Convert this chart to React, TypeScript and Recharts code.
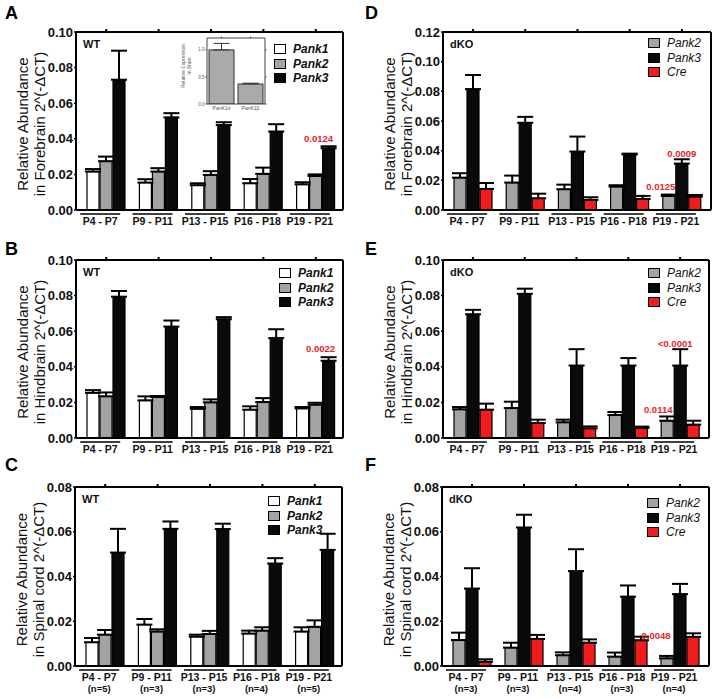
import React from "react";
import { BarChart, Bar, XAxis, YAxis, ErrorBar, Legend, LabelList } from "recharts";

const FONT = "'Liberation Sans', Arial, Helvetica, sans-serif";

const groups = ["P4 - P7", "P9 - P11", "P13 - P15", "P16 - P18", "P19 - P21"];
const nWT = ["(n=5)", "(n=3)", "(n=3)", "(n=4)", "(n=5)"];
const nKO = ["(n=3)", "(n=3)", "(n=4)", "(n=3)", "(n=4)"];

const ticks10 = [0, 0.02, 0.04, 0.06, 0.08, 0.1];
const ticks12 = [0, 0.02, 0.04, 0.06, 0.08, 0.1, 0.12];
const ticks08 = [0, 0.02, 0.04, 0.06, 0.08];

// A - forebrain WT
const aPank1 = [0.0216, 0.0154, 0.0139, 0.015, 0.0144];
const aPank1Err = [0.0014, 0.0019, 0.0011, 0.0024, 0.0012];
const aPank2 = [0.0274, 0.0216, 0.0197, 0.0203, 0.0191];
const aPank2Err = [0.0026, 0.0019, 0.0021, 0.0035, 0.0009];
const aPank3 = [0.0732, 0.052, 0.0477, 0.0441, 0.0347];
const aPank3Err = [0.0163, 0.0024, 0.0016, 0.0041, 0.0011];

// B - hindbrain WT
const bPank1 = [0.0254, 0.0211, 0.0164, 0.0159, 0.0166];
const bPank1Err = [0.0015, 0.0023, 0.001, 0.0019, 0.0008];
const bPank2 = [0.0234, 0.023, 0.02, 0.0202, 0.0187];
const bPank2Err = [0.0022, 0.0006, 0.0017, 0.0022, 0.0011];
const bPank3 = [0.0794, 0.0626, 0.0667, 0.0561, 0.0434];
const bPank3Err = [0.0032, 0.0034, 0.0012, 0.005, 0.002];

// C - spinal cord WT
const cPank1 = [0.0106, 0.0185, 0.0131, 0.0145, 0.0154];
const cPank1Err = [0.0019, 0.0025, 0.0009, 0.0013, 0.0019];
const cPank2 = [0.014, 0.0154, 0.0143, 0.0158, 0.0175];
const cPank2Err = [0.0021, 0.001, 0.0014, 0.0015, 0.0029];
const cPank3 = [0.0507, 0.0613, 0.0612, 0.0458, 0.0519];
const cPank3Err = [0.0106, 0.0033, 0.0024, 0.0024, 0.0072];

// D - forebrain dKO
const dPank2 = [0.0218, 0.0185, 0.014, 0.0158, 0.0095];
const dPank2Err = [0.003, 0.0047, 0.0031, 0.0009, 0.0009];
const dPank3 = [0.0815, 0.0588, 0.0394, 0.0374, 0.0313];
const dPank3Err = [0.0095, 0.004, 0.0101, 0.0006, 0.0029];
const dCre = [0.0142, 0.0079, 0.0068, 0.0074, 0.009];
const dCreErr = [0.004, 0.0031, 0.0018, 0.0021, 0.0011];

// E - hindbrain dKO
const ePank2 = [0.0161, 0.0168, 0.0088, 0.0129, 0.0097];
const ePank2Err = [0.0013, 0.0036, 0.0015, 0.0017, 0.0024];
const ePank3 = [0.0695, 0.081, 0.0407, 0.0407, 0.0407];
const ePank3Err = [0.0025, 0.0029, 0.0092, 0.0042, 0.0092];
const eCre = [0.0159, 0.0084, 0.0054, 0.0056, 0.0075];
const eCreErr = [0.0034, 0.0019, 0.0011, 0.0008, 0.0022];

// F - spinal cord dKO
const fPank2 = [0.0116, 0.0082, 0.0048, 0.0042, 0.0034];
const fPank2Err = [0.0033, 0.0022, 0.0013, 0.0018, 0.0011];
const fPank3 = [0.0346, 0.0619, 0.0424, 0.031, 0.0321];
const fPank3Err = [0.0091, 0.0057, 0.0098, 0.005, 0.0046];
const fCre = [0.0019, 0.0121, 0.0104, 0.0115, 0.013];
const fCreErr = [0.0011, 0.0018, 0.0015, 0.0016, 0.0016];

// inset in A
const insetCats = ["PanK1\u03b1", "PanK1\u03b2"];
const insetVals = [1.0, 0.37];
const insetErr = [0.12, 0.015];

const WHITE = "#ffffff";
const GRAY = "#a3a3a3";
const BLACK = "#0a0a0a";
const RED = "#f21c1c";

type Series = { key: string; name: string; fill: string; values: number[]; errs: number[] };
type Note = { series: string; index: number; text: string; dx: number; dy: number };

function buildData(series: Series[], notes: Note[], nLabels?: string[]) {
  return groups.map((g, i) => {
    const row: any = { group: g, n: nLabels ? nLabels[i] : "" };
    series.forEach((s) => {
      row[s.key] = s.values[i];
      row[s.key + "Err"] = [0, s.errs[i]];
    });
    notes.forEach((n) => {
      if (n.index === i) row[n.series + "Note"] = n.text;
    });
    return row;
  });
}

const blank = () => <g />;

function Panel(props: any) {
  const { letter, pos, plot, xh, series, notes, nLabels, ticks, genotype, place, legendPos, pad, bold } = props;
  const data = buildData(series, notes, nLabels);
  const margin = { left: plot.l - 44, top: plot.t - 1, right: pos.w - plot.r - 4, bottom: pos.h - plot.b - xh };
  const axisLine = { stroke: "#000", strokeWidth: 2 };
  const midY = (plot.t + plot.b) / 2 + 3;

  const title = () => (
    <g fontFamily={FONT} fontSize={15} fill="#111">
      <text transform={`translate(${plot.l - 54},${midY}) rotate(-90)`} textAnchor="middle" dominantBaseline="central">
        Relative Abundance
      </text>
      <text transform={`translate(${plot.l - 37},${midY}) rotate(-90)`} textAnchor="middle" dominantBaseline="central">
        {place} 2^(-{"\u0394"}CT)
      </text>
    </g>
  );

  const groupTick = (p: any) => {
    const { x, y, payload, index } = p;
    const cx = x - 6;
    return (
      <g fontFamily={FONT} fontWeight="bold" fill="#111">
        <line x1={cx - 20} x2={cx + 20} y1={y + 4} y2={y + 4} stroke="#000" strokeWidth={1.5} />
        <text x={cx} y={y + 15} textAnchor="middle" fontSize={10.5}>
          {payload.value}
        </text>
        {nLabels ? (
          <text x={cx} y={y + 26} textAnchor="middle" fontSize={9.5}>
            {nLabels[index]}
          </text>
        ) : null}
      </g>
    );
  };

  const noteContent = (key: string) => (p: any) => {
    if (!p.value) return null;
    const n = notes.find((q: Note) => q.series === key && q.text === p.value);
    const vb = p.viewBox || {};
    const x = p.x ?? vb.x;
    const y = p.y ?? vb.y;
    const w = p.width ?? vb.width;
    return (
      <text x={x + w / 2 + n.dx} y={y + n.dy} textAnchor="middle" fill="#e8232a" fontSize={9.5} fontWeight="bold" fontFamily={FONT}>
        {p.value}
      </text>
    );
  };

  const legendContent = () => (
    <div style={{ fontFamily: FONT }}>
      {series.map((s: Series) => (
        <div key={s.key} style={{ display: "flex", alignItems: "center", height: 14.5 }}>
          <div style={{ width: 10, height: 8, background: s.fill, border: "1.5px solid #000", marginRight: 7 }} />
          <span style={{ fontSize: 12, fontStyle: "italic", fontWeight: bold ? "bold" : "normal", color: "#111" }}>{s.name}</span>
        </div>
      ))}
    </div>
  );

  return (
    <div style={{ position: "absolute", left: pos.x, top: pos.y, width: pos.w, height: pos.h }}>
      <BarChart width={pos.w} height={pos.h} margin={margin} data={data} barSize={12} barGap={1}>
        <XAxis
          dataKey="group"
          xAxisId="b"
          height={xh}
          axisLine={axisLine}
          tickLine={false}
          tickSize={0}
          tickMargin={0}
          interval={0}
          padding={pad}
          tick={groupTick}
        />
        <XAxis dataKey="group" xAxisId="t" orientation="top" height={1} axisLine={axisLine} tickSize={3} tickLine={{ stroke: "#000", strokeWidth: 2 }} tick={blank} interval={0} padding={pad} />
        <YAxis
          yAxisId="l"
          width={44}
          domain={[0, ticks[ticks.length - 1]]}
          ticks={ticks}
          interval={0}
          axisLine={axisLine}
          tickLine={{ stroke: "#000", strokeWidth: 1.5 }}
          tickSize={2}
          tickMargin={1}
          tick={{ fill: "#111", fontSize: 13, fontWeight: "bold", fontFamily: FONT }}
          tickFormatter={(v: number) => v.toFixed(2)}
          label={title}
        />
        <YAxis yAxisId="r" orientation="right" width={4} domain={[0, ticks[ticks.length - 1]]} ticks={ticks} interval={0} axisLine={axisLine} tickSize={3} tickLine={{ stroke: "#000", strokeWidth: 2 }} tick={blank} />
        {series.map((s: Series) => (
          <Bar key={s.key} xAxisId="b" yAxisId="l" dataKey={s.key} name={s.name} fill={s.fill} stroke="#000" strokeWidth={1.2} isAnimationActive={false}>
            <ErrorBar dataKey={s.key + "Err"} direction="y" width={8} strokeWidth={2} stroke="#000" />
            <LabelList dataKey={s.key + "Note"} content={noteContent(s.key)} />
          </Bar>
        ))}
        <Legend layout="vertical" align="center" verticalAlign="middle" content={legendContent} wrapperStyle={{ left: legendPos.left, top: legendPos.top, width: 70 }} />
      </BarChart>
      <div style={{ position: "absolute", left: plot.l + 7, top: plot.t + 6, fontFamily: FONT, fontWeight: "bold", fontSize: 11, color: "#111" }}>{genotype}</div>
      <div style={{ position: "absolute", left: letter.x, top: letter.y, fontFamily: FONT, fontWeight: "bold", fontSize: 18, color: "#000" }}>{letter.t}</div>
    </div>
  );
}

function Inset() {
  const data = insetCats.map((c, i) => ({ cat: c, v: insetVals[i], e: [0, insetErr[i]] }));
  const pos = { x: 170, y: 30, w: 100, h: 85 };
  const plot = { l: 37, t: 8, r: 95, b: 74 };
  const margin = { left: plot.l - 14, top: plot.t - 1, right: pos.w - plot.r - 2, bottom: pos.h - plot.b - 9 };
  const ax = { stroke: "#444", strokeWidth: 1 };
  const mid = 36;
  const title = () => (
    <g fontFamily={FONT} fontSize={5} fill="#555">
      <text transform={`translate(13,${mid}) rotate(-90)`} textAnchor="middle" dominantBaseline="central">
        Relative Expression
      </text>
      <text transform={`translate(19,${mid}) rotate(-90)`} textAnchor="middle" dominantBaseline="central">
        in Brain
      </text>
    </g>
  );
  return (
    <div style={{ position: "absolute", left: pos.x, top: pos.y }}>
      <BarChart width={pos.w} height={pos.h} margin={margin} data={data} barSize={25} barCategoryGap={2}>
        <XAxis dataKey="cat" height={9} axisLine={ax} tickLine={false} tickSize={1} tickMargin={1} interval={0} tick={{ fontSize: 5, fill: "#555", fontFamily: FONT }} />
        <XAxis dataKey="cat" xAxisId="t" orientation="top" height={1} axisLine={ax} tickSize={1.5} tickLine={ax} tick={blank} interval={0} />
        <YAxis width={14} domain={[0, 1.22]} ticks={[0, 0.5, 1]} interval={0} axisLine={ax} tickLine={ax} tickSize={1.5} tickMargin={1} tick={{ fontSize: 4.5, fill: "#555", fontFamily: FONT }} tickFormatter={(v: number) => v.toFixed(1)} label={title} allowDataOverflow />
        <YAxis yAxisId="r" orientation="right" width={2} domain={[0, 1.22]} ticks={[0, 0.5, 1]} axisLine={ax} tickLine={ax} tickSize={1.5} tick={blank} allowDataOverflow />
        <Bar dataKey="v" fill="#aaaaaa" stroke="#333" strokeWidth={1} isAnimationActive={false}>
          <ErrorBar dataKey="e" direction="y" width={8} strokeWidth={1} stroke="#333" />
        </Bar>
      </BarChart>
    </div>
  );
}

const wtSeries = (p1: number[], e1: number[], p2: number[], e2: number[], p3: number[], e3: number[]): Series[] => [
  { key: "s1", name: "Pank1", fill: WHITE, values: p1, errs: e1 },
  { key: "s2", name: "Pank2", fill: GRAY, values: p2, errs: e2 },
  { key: "s3", name: "Pank3", fill: BLACK, values: p3, errs: e3 },
];
const koSeries = (p2: number[], e2: number[], p3: number[], e3: number[], cr: number[], ec: number[]): Series[] => [
  { key: "s1", name: "Pank2", fill: GRAY, values: p2, errs: e2 },
  { key: "s2", name: "Pank3", fill: BLACK, values: p3, errs: e3 },
  { key: "s3", name: "Cre", fill: RED, values: cr, errs: ec },
];

const notesA: Note[] = [{ series: "s3", index: 4, text: "0.0124", dx: -10, dy: -6 }];
const notesB: Note[] = [{ series: "s3", index: 4, text: "0.0022", dx: -8, dy: -9 }];
const notesC: Note[] = [];
const notesD: Note[] = [
  { series: "s2", index: 4, text: "0.0009", dx: 0, dy: -7 },
  { series: "s1", index: 4, text: "0.0125", dx: -8, dy: -6 },
];
const notesE: Note[] = [
  { series: "s2", index: 4, text: "<0.0001", dx: -5, dy: -19 },
  { series: "s1", index: 4, text: "0.0114", dx: -9, dy: -8 },
];
const notesF: Note[] = [{ series: "s3", index: 3, text: "0.0048", dx: 15, dy: -1 }];

const padWT = { left: 4, right: 1 };
const padKO = { left: 4, right: 3 };

export default function App() {
  return (
    <div style={{ position: "absolute", left: 0, top: 0, width: 719, height: 699, background: "#fff", overflow: "hidden" }}>
      <Panel
        letter={{ t: "A", x: 5, y: 3 }}
        pos={{ x: 0, y: 0, w: 360, h: 230 }}
        plot={{ l: 76, t: 32, r: 343, b: 210 }}
        xh={18}
        series={wtSeries(aPank1, aPank1Err, aPank2, aPank2Err, aPank3, aPank3Err)}
        notes={notesA}
        ticks={ticks10}
        genotype="WT"
        place="in Forebrain"
        legendPos={{ left: 274, top: 42 }}
        pad={padWT}
        bold
      />
      <Inset />
      <Panel
        letter={{ t: "B", x: 5, y: 9 }}
        pos={{ x: 0, y: 230, w: 360, h: 230 }}
        plot={{ l: 76, t: 30, r: 343, b: 208 }}
        xh={20}
        series={wtSeries(bPank1, bPank1Err, bPank2, bPank2Err, bPank3, bPank3Err)}
        notes={notesB}
        ticks={ticks10}
        genotype="WT"
        place="in Hindbrain"
        legendPos={{ left: 279, top: 36 }}
        pad={padWT}
        bold
      />
      <Panel
        letter={{ t: "C", x: 5, y: -5 }}
        pos={{ x: 0, y: 460, w: 360, h: 239 }}
        plot={{ l: 75, t: 27, r: 342, b: 206 }}
        xh={31}
        series={wtSeries(cPank1, cPank1Err, cPank2, cPank2Err, cPank3, cPank3Err)}
        notes={notesC}
        nLabels={nWT}
        ticks={ticks08}
        genotype="WT"
        place="in Spinal cord"
        legendPos={{ left: 268, top: 34 }}
        pad={padWT}
        bold
      />
      <Panel
        letter={{ t: "D", x: 5, y: 3 }}
        pos={{ x: 360, y: 0, w: 359, h: 230 }}
        plot={{ l: 83, t: 32, r: 351, b: 210 }}
        xh={18}
        series={koSeries(dPank2, dPank2Err, dPank3, dPank3Err, dCre, dCreErr)}
        notes={notesD}
        ticks={ticks12}
        genotype="dKO"
        place="in Forebrain"
        legendPos={{ left: 288, top: 36 }}
        pad={padKO}
      />
      <Panel
        letter={{ t: "E", x: 5, y: 9 }}
        pos={{ x: 360, y: 230, w: 359, h: 230 }}
        plot={{ l: 83, t: 30, r: 349, b: 208 }}
        xh={20}
        series={koSeries(ePank2, ePank2Err, ePank3, ePank3Err, eCre, eCreErr)}
        notes={notesE}
        ticks={ticks10}
        genotype="dKO"
        place="in Hindbrain"
        legendPos={{ left: 288, top: 36 }}
        pad={padKO}
      />
      <Panel
        letter={{ t: "F", x: 5, y: -5 }}
        pos={{ x: 360, y: 460, w: 359, h: 239 }}
        plot={{ l: 82, t: 27, r: 349, b: 206 }}
        xh={31}
        series={koSeries(fPank2, fPank2Err, fPank3, fPank3Err, fCre, fCreErr)}
        notes={notesF}
        nLabels={nKO}
        ticks={ticks08}
        genotype="dKO"
        place="in Spinal cord"
        legendPos={{ left: 287, top: 36 }}
        pad={padKO}
      />
    </div>
  );
}
